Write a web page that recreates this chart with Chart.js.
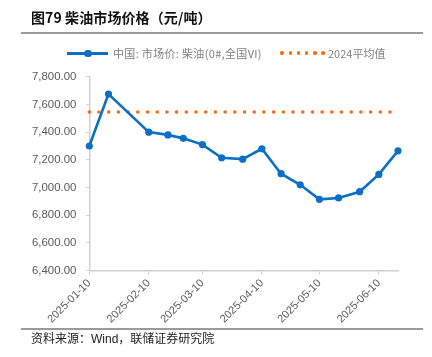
<!DOCTYPE html>
<html>
<head>
<meta charset="utf-8">
<script src="https://cdn.jsdelivr.net/npm/chart.js@4/dist/chart.umd.min.js"></script>
<style>
  html, body { margin: 0; padding: 0; background: #fff; }
  body { width: 432px; height: 357px; position: relative; overflow: hidden; }
  #c { position: absolute; left: 0; top: 0; }
  .abs { position: absolute; white-space: nowrap; }
  #title { left: 31px; top: 8px; font: bold 14px/18px "Noto Sans CJK SC", sans-serif; color: #111; letter-spacing: 0.1px; }
  .rule { position: absolute; left: 21px; width: 402px; height: 2px; background: #9a9a9a; }
  #source { left: 31px; top: 331px; font: 12px/16px "Liberation Sans", "Noto Sans CJK SC", sans-serif; color: #222; }
  .legtext { font: 11px/14px "Noto Sans CJK SC", sans-serif; color: #7f7f7f; top: 46px; }
</style>
</head>
<body>
<canvas id="c" width="432" height="357"></canvas>
<div id="title" class="abs">图79 柴油市场价格（元/吨）</div>
<div class="rule" style="top:32px"></div>
<div id="legend"></div>
<div class="rule" style="top:328px"></div>
<div id="source" class="abs">资料来源：Wind，联储证券研究院</div>
<script>
// ---- data ----
const dates = ['2025-01-10','2025-01-20','2025-02-10','2025-02-20','2025-02-28','2025-03-10','2025-03-20','2025-03-31','2025-04-10','2025-04-20','2025-04-30','2025-05-10','2025-05-20','2025-05-31','2025-06-10','2025-06-20'];
const prices = [7300,7675,7400,7380,7355,7310,7215,7205,7280,7100,7020,6915,6925,6970,7095,7265];
const avg2024 = 7545;
const tickDates = ['2025-01-10','2025-02-10','2025-03-10','2025-04-10','2025-05-10','2025-06-10'];
const seriesNames = ['中国: 市场价: 柴油(0#,全国VI)', '2024平均值'];
const yMin = 6400, yMax = 7800, yStep = 200;

const BLUE = '#0b6fc4', ORANGE = '#ff6a0d';

function day(s) {
  const p = s.split('-').map(Number);
  return Date.UTC(p[0], p[1] - 1, p[2]) / 86400000;
}
const labelByDay = {};
tickDates.forEach(d => { labelByDay[day(d)] = d; });

// ---- HTML legend ----
(function () {
  const L = document.getElementById('legend');
  const add = (html) => { L.insertAdjacentHTML('beforeend', html); };
  add('<div class="abs" style="left:67px;top:52px;width:41px;height:2.5px;background:' + BLUE + '"></div>');
  add('<div class="abs" style="left:84px;top:49.5px;width:7.5px;height:7.5px;border-radius:50%;background:' + BLUE + '"></div>');
  add('<div class="abs legtext" style="left:113px;letter-spacing:0.33px">' + seriesNames[0] + '</div>');
  for (let i = 0; i < 6; i++) {
    add('<div class="abs" style="left:' + (280.3 + i * 8.2) + 'px;top:51.3px;width:3.6px;height:3.6px;border-radius:50%;background:' + ORANGE + '"></div>');
  }
  add('<div class="abs legtext" style="left:328px">' + seriesNames[1] + '</div>');
})();

const fmt = new Intl.NumberFormat('en-US', { minimumFractionDigits: 2, maximumFractionDigits: 2 });

new Chart(document.getElementById('c'), {
  type: 'line',
  data: {
    datasets: [
      {
        label: seriesNames[0],
        data: dates.map((d, i) => ({ x: day(d), y: prices[i] })),
        borderColor: BLUE,
        backgroundColor: BLUE,
        borderWidth: 2.6,
        pointRadius: 3.6,
        pointHoverRadius: 3.6,
        pointBorderWidth: 0,
        tension: 0,
        clip: false,
        order: 1
      },
      {
        label: seriesNames[1],
        data: dates.map(d => ({ x: day(d), y: avg2024 })),
        borderColor: ORANGE,
        backgroundColor: ORANGE,
        borderWidth: 3.6,
        borderDash: [0, 9.7],
        borderCapStyle: 'round',
        pointRadius: 0,
        tension: 0,
        clip: false,
        order: 2
      }
    ]
  },
  options: {
    responsive: false,
    devicePixelRatio: 1,
    animation: false,
    events: [],
    layout: { padding: { top: 76.7, right: 34, left: 0, bottom: 0 } },
    plugins: { legend: { display: false }, tooltip: { enabled: false }, title: { display: false } },
    scales: {
      x: {
        type: 'linear',
        min: day(dates[0]),
        max: day(dates[dates.length - 1]),
        afterBuildTicks: (s) => { s.ticks = tickDates.map(d => ({ value: day(d) })); },
        afterFit: (s) => { s.height = 86.3; },
        grid: { display: true, drawOnChartArea: false, drawTicks: true, tickLength: 4, color: '#d0d0d0', lineWidth: 1 },
        border: { display: true, color: '#d0d0d0', width: 1.5 },
        ticks: {
          autoSkip: false, maxRotation: 45, minRotation: 45, padding: 2,
          color: '#595959', font: { family: 'Liberation Sans, Arial, sans-serif', size: 11 },
          callback: (v) => labelByDay[v] || ''
        }
      },
      y: {
        min: yMin, max: yMax,
        afterFit: (s) => { s.width = 89.3; },
        grid: { display: true, drawOnChartArea: false, drawTicks: true, tickLength: 3, color: '#d0d0d0', lineWidth: 1 },
        border: { display: true, color: '#d0d0d0', width: 1.5 },
        ticks: {
          stepSize: yStep, padding: 10,
          color: '#595959', font: { family: 'Liberation Sans, Arial, sans-serif', size: 11.4 },
          callback: (v) => fmt.format(v)
        }
      }
    }
  }
});
</script>
</body>
</html>
